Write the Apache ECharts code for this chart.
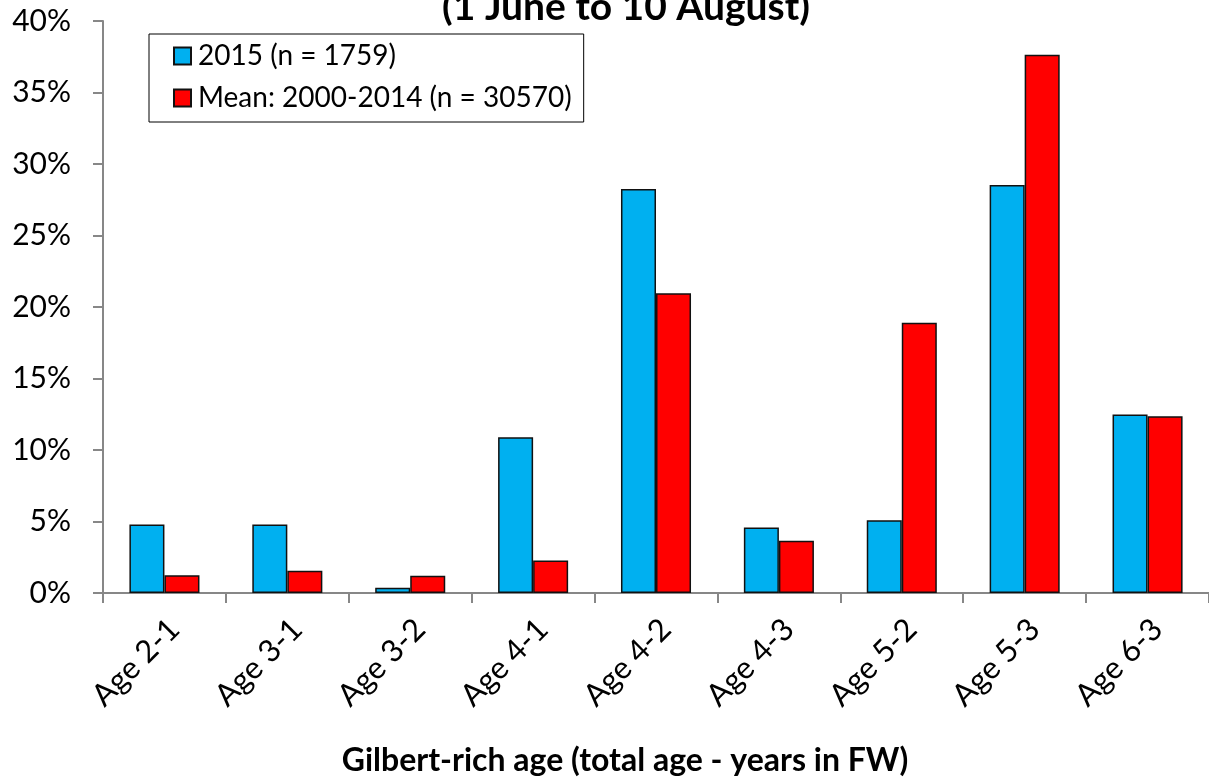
<!DOCTYPE html>
<html><head><meta charset="utf-8">
<script src="https://cdn.jsdelivr.net/npm/echarts@6/dist/echarts.min.js"></script>
<style>html,body{margin:0;padding:0;background:#fff}#c{width:1209px;height:782px}</style>
</head><body><div id="c"></div>
<script>
const categories = ['Age 2-1','Age 3-1','Age 3-2','Age 4-1','Age 4-2','Age 4-3','Age 5-2','Age 5-3','Age 6-3'];
const series2015 = [4.79, 4.79, 0.37, 10.9, 28.26, 4.58, 5.09, 28.54, 12.48];
const seriesMean = [1.25, 1.55, 1.2, 2.27, 20.97, 3.66, 18.9, 37.64, 12.36];
const seriesNames = ['2015 (n = 1759)', 'Mean: 2000-2014 (n = 30570)'];
const yTicks = [0, 5, 10, 15, 20, 25, 30, 35, 40];

const FONT = 'Lato';
const chart = echarts.init(document.getElementById('c'));
chart.setOption({
  animation: false,
  backgroundColor: '#fff',
  textStyle: {fontFamily: FONT, color: '#000'},
  title: {
    text: '(1 June to 10 August)',
    left: 621, textAlign: 'center', top: -17,
    textStyle: {fontFamily: FONT, fontWeight: 'bold', fontSize: 39, color: '#000'}
  },
  legend: {
    orient: 'vertical', left: 149, top: 34,
    padding: [8, 12, 10, 24],
    borderColor: '#000', borderWidth: 1,
    itemWidth: 17, itemHeight: 17, itemGap: 14,
    icon: 'rect',
    textStyle: {fontFamily: FONT, fontSize: 28, color: '#000', padding: [0, 0, 0, 2]},
    data: seriesNames
  },
  grid: {left: 103, right: 0, top: 21, bottom: 185, containLabel: false},
  xAxis: {
    type: 'category', data: categories,
    axisLine: {lineStyle: {color: '#878787', width: 2}},
    axisTick: {show: true, length: 10, lineStyle: {color: '#878787', width: 2}},
    axisLabel: {rotate: 45, fontSize: 31, color: '#000', fontFamily: FONT, margin: 41, interval: 0,
      padding: [0, -14, 0, 0]},
    name: 'Gilbert-rich age (total age - years in FW)',
    nameLocation: 'middle', nameGap: 152,
    nameTextStyle: {fontFamily: FONT, fontWeight: 'bold', fontSize: 32, color: '#000', padding: [0, 62, 0, 0]}
  },
  yAxis: {
    type: 'value', min: 0, max: 40, interval: 5,
    axisLine: {show: true, lineStyle: {color: '#878787', width: 2}},
    axisTick: {show: true, length: 10, lineStyle: {color: '#878787', width: 2}},
    splitLine: {show: false},
    axisLabel: {fontSize: 30, color: '#000', fontFamily: FONT, margin: 32,
      formatter: v => yTicks.includes(v) ? v + '%' : ''}
  },
  series: [
    {name: seriesNames[0], type: 'bar', data: series2015, barWidth: '28.5%', barGap: '0%',
     itemStyle: {color: '#00B0F0', borderColor: '#111', borderWidth: 1.5}},
    {name: seriesNames[1], type: 'bar', data: seriesMean, barWidth: '28.5%', barGap: '0%',
     itemStyle: {color: '#FF0000', borderColor: '#111', borderWidth: 1.5}}
  ]
});
</script></body></html>
